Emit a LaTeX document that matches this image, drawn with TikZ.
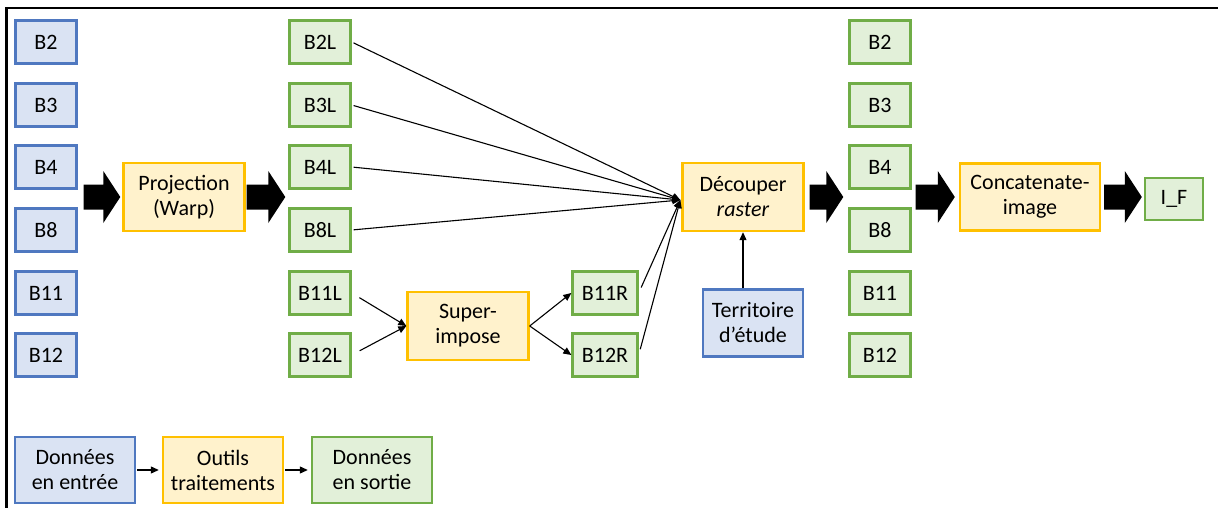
\documentclass[tikz,border=0pt]{standalone}
\usepackage{fontspec}
\setmainfont{Carlito}
\usetikzlibrary{arrows.meta,calc}
\definecolor{bfill}{HTML}{DAE3F3}
\definecolor{bdraw}{HTML}{4F78C0}
\definecolor{gfill}{HTML}{E2F0D9}
\definecolor{gdraw}{HTML}{70AD47}
\definecolor{yfill}{HTML}{FFF2CC}
\definecolor{ydraw}{HTML}{FFC000}
\tikzset{
  base/.style={draw, line width=2.4pt, align=center, inner sep=0pt, font=\fontsize{22}{25}\selectfont},
  inbox/.style={base, draw=bdraw, fill=bfill},
  outbox/.style={base, draw=gdraw, fill=gfill},
  toolbox/.style={base, draw=ydraw, fill=yfill},
  band/.style={minimum width=61pt, minimum height=43pt},
  tool/.style={minimum width=121pt, minimum height=68pt},
  thin/.style={-{Triangle[length=8pt,width=7pt]}, line width=1.1pt},
  frame/.style={line width=2.8pt}
}
\newcommand\blockarr[2]{%
  \fill let \p1=(#1), \p2=(#2) in
    (\x1,\y1+12.5pt) -- (\x2-17pt,\y1+12.5pt) -- (\x2-17pt,\y1+26pt) -- (\x2,\y1)
    -- (\x2-17pt,\y1-26pt) -- (\x2-17pt,\y1-12.5pt) -- (\x1,\y1-12.5pt) -- cycle;}
\begin{document}
\begin{tikzpicture}[x=1pt,y=-1pt]
\useasboundingbox (0,0) rectangle (1218,508);
\fill[white] (0,0) rectangle (1218,508);
\coordinate (fTL) at (6.5,8);
\coordinate (fTR) at (1218,8);
\coordinate (fBL) at (6.5,508);
\draw[frame] (fBL) -- (fTL) -- (fTR);

% column 1 (inputs)
\node[inbox,band] (B2)  at (46,42)  {B2};
\node[inbox,band] (B3)  at (46,105) {B3};
\node[inbox,band] (B4)  at (46,167) {B4};
\node[inbox,band] (B8)  at (46,230) {B8};
\node[inbox,band] (B11) at (46,293) {B11};
\node[inbox,band] (B12) at (46,355) {B12};

\node[toolbox,tool] (proj) at (184,197) {Projection\\(Warp)};

% column 2
\node[outbox,band] (B2L)  at (320,42)  {B2L};
\node[outbox,band] (B3L)  at (320,105) {B3L};
\node[outbox,band] (B4L)  at (320,167) {B4L};
\node[outbox,band] (B8L)  at (320,230) {B8L};
\node[outbox,band] (B11L) at (320,293) {B11L};
\node[outbox,band] (B12L) at (320,355) {B12L};

\node[toolbox,tool] (sup) at (468,326) {Super-\\impose};
\node[outbox,band,minimum width=65pt] (B11R) at (605,293) {B11R};
\node[outbox,band,minimum width=65pt] (B12R) at (605,355) {B12R};

\node[toolbox,tool] (dec) at (743,197) {Découper\\\textit{raster}};
\node[inbox,minimum width=100pt,minimum height=67pt] (terr) at (753,323) {Territoire\\d’étude};

% column 3
\node[outbox,band] (C2)  at (880,42)  {B2};
\node[outbox,band] (C3)  at (880,105) {B3};
\node[outbox,band] (C4)  at (880,167) {B4};
\node[outbox,band] (C8)  at (880,230) {B8};
\node[outbox,band] (C11) at (880,293) {B11};
\node[outbox,band] (C12) at (880,355) {B12};

\node[toolbox,minimum width=140pt,minimum height=67pt] (conc) at (1030,197) {Concatenate-\\image};
\node[outbox,minimum width=58pt,minimum height=42pt] (IF) at (1174,199) {I\_F};

% legend
\node[inbox,minimum width=120pt,minimum height=66pt] (L1) at (75,470) {Données\\en entrée};
\node[toolbox,minimum width=120pt,minimum height=66pt] (L2) at (223,470) {Outils\\traitements};
\node[outbox,minimum width=120pt,minimum height=66pt] (L3) at (372,470) {Données\\en sortie};

% block arrows
\coordinate (a1s) at ($(B8.east |- proj.west)+(6,0)$);
\coordinate (a1e) at ($(proj.west)+(-2,0)$);
\coordinate (a2s) at ($(proj.east)+(1,0)$);
\coordinate (a2e) at ($(B8L.west |- proj.east)+(-3,0)$);
\coordinate (a3s) at ($(dec.east)+(5,0)$);
\coordinate (a3e) at ($(C8.west |- dec.east)+(-5,0)$);
\coordinate (a4s) at ($(C8.east |- conc.west)+(4,0)$);
\coordinate (a4e) at ($(conc.west)+(-4,0)$);
\coordinate (a5s) at ($(conc.east)+(3,0)$);
\coordinate (a5e) at ($(IF.west |- conc.east)+(-2,0)$);
\blockarr{a1s}{a1e}
\blockarr{a2s}{a2e}
\blockarr{a3s}{a3e}
\blockarr{a4s}{a4e}
\blockarr{a5s}{a5e}

% thin connectors
\coordinate (hub) at ($(dec.west)+(-1,3)$);
\draw[thin,shorten <=2pt] (B2L.east) -- (hub);
\draw[thin,shorten <=2pt] (B3L.east) -- (hub);
\draw[thin,shorten <=2pt] (B4L.east) -- (hub);
\draw[thin,shorten <=2pt] (B8L.east) -- (hub);
\draw[thin,shorten <=6pt] (B11R.east) -- (hub);
\draw[thin,shorten <=6pt] (B12R.east) -- (hub);
\draw[thin,shorten <=9pt] (B11L.east) -- (sup.west);
\draw[thin,shorten <=9pt] (B12L.east) -- (sup.west);
\draw[thin] (sup.east) -- (B11R.west);
\draw[thin] (sup.east) -- (B12R.west);
\draw[thin] (terr.north -| dec.south) -- (dec.south);
\draw[thin,shorten <=1pt,shorten >=3pt] (L1.east) -- (L2.west);
\draw[thin,shorten <=1pt,shorten >=3pt] (L2.east) -- (L3.west);
\end{tikzpicture}
\end{document}
